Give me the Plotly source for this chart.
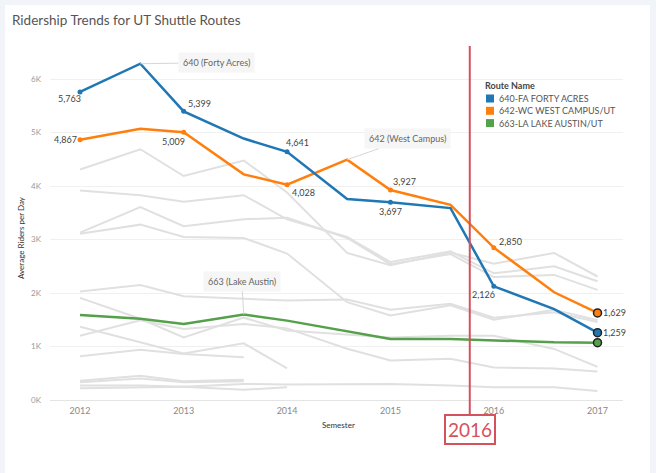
import plotly.graph_objects as go

# semesters (spring = Jan, fall = Aug)
semesters = ["2012-01-01", "2012-08-01", "2013-01-01", "2013-08-01", "2014-01-01", "2014-08-01",
             "2015-01-01", "2015-08-01", "2016-01-01", "2016-08-01", "2017-01-01"]

forty_acres = [5763, 6290, 5399, 4890, 4641, 3760, 3697, 3590, 2126, 1700, 1259]
west_campus = [4867, 5075, 5009, 4220, 4028, 4495, 3927, 3650, 2850, 2015, 1629]
lake_austin = [1590, 1520, 1420, 1600, 1485, 1280, 1140, 1140, 1110, 1080, 1073]

# every other route, drawn in grey
route_a = [4310, 4690, 4190, 4480, 3880, 2750, 2520, 2760, 2550, 2750, 2310]
route_b = [3920, 3830, 3710, 3830, 3380, 3050, 2580, 2780, 2370, 2500, 2220]
route_c = [3130, 3610, 3250, 3380, 3410, 3030, 2540, 2730, 2300, 2340, 2060]
route_d = [3110, 3280, 3050, 3030, 2740, 1830, 1580, 1770, 1500, 1690, 1490]
route_e = [2030, 2150, 1940, 1900, 1860, 1880, 1690, 1800, 1540, 1640, 1460]
route_f = [1910, 1520, 1170, 1540, 1300, 1230, 1170, 1200, 1200, 955, 620]
route_g = [1200, 1490, 1330, 1420, 1340, 960, 740, 770, 610, 590, 535]
route_h = [1370, 1080, 870, 1060, 590]
route_i = [820, 940, 860, 800]
route_j = [360, 455, 350, 380]
route_k = [330, 400, 330, 350]
route_l = [270, 270, 250, 300, 290, 300, 300, 270, 240, 240, 170]
route_m = [220, 240, 250, 190, 240]
grey_routes = [route_a, route_b, route_c, route_d, route_e, route_f, route_g,
               route_h, route_i, route_j, route_k, route_l, route_m]

legend_names = ["640-FA FORTY ACRES", "642-WC WEST CAMPUS/UT", "663-LA LAKE AUSTIN/UT"]
y_ticks = [0, 1000, 2000, 3000, 4000, 5000, 6000]
y_labels = ["0K", "1K", "2K", "3K", "4K", "5K", "6K"]
marked_year = "2016"

BLUE = "#1f77b4"
ORANGE = "#ff7f0e"
GREEN = "#55a04a"
GREY = "#e0e0e0"
RED = "#d4525c"
FONT = "Lato"

W, H = 656, 473
L, R, T, B = 50, 33, 45, 73
pw, ph = W - L - R, H - T - B


def px(xp):  # page pixel -> paper x
    return (xp - L) / pw


def py(yp):  # page pixel -> paper y
    return (H - B - yp) / ph


fig = go.Figure()

for vals in grey_routes:
    fig.add_trace(go.Scatter(x=semesters[:len(vals)], y=vals, mode="lines",
                             line=dict(color=GREY, width=2), hoverinfo="skip", showlegend=False))

main = [(lake_austin, GREEN), (west_campus, ORANGE), (forty_acres, BLUE)]
for vals, col in main:
    fig.add_trace(go.Scatter(x=semesters, y=vals, mode="lines",
                             line=dict(color=col, width=2.5), showlegend=False))

# small dots at the labelled points, big outlined dot at the end
for vals, col in [(west_campus, ORANGE), (forty_acres, BLUE)]:
    idx = [0, 2, 4, 6, 8]
    fig.add_trace(go.Scatter(x=[semesters[i] for i in idx], y=[vals[i] for i in idx], mode="markers",
                             marker=dict(color=col, size=5), showlegend=False))
for vals, col in main:
    fig.add_trace(go.Scatter(x=[semesters[-1]], y=[vals[-1]], mode="markers",
                             marker=dict(color=col, size=8, line=dict(color="#222", width=1.5)),
                             showlegend=False))

# value labels (pixel offsets from the point)
labels = [
    (forty_acres, 0, -11, -7), (forty_acres, 2, 16, 8), (forty_acres, 4, 10, 9),
    (forty_acres, 6, 0, -9), (forty_acres, 8, -10, -8), (forty_acres, 10, 17, 0),
    (west_campus, 0, -15, 0), (west_campus, 2, -10, -9), (west_campus, 4, 16, -8),
    (west_campus, 6, 14, 9), (west_campus, 8, 17, 6), (west_campus, 10, 17, 0),
]
for vals, i, dx, dy in labels:
    fig.add_annotation(x=semesters[i], y=vals[i], text=f"{vals[i]:,}", showarrow=False,
                       xshift=dx, yshift=dy, font=dict(size=9, color="#444", family=FONT))

# route callouts
callouts = [("640 (Forty Acres)", semesters[1], forty_acres[1], 76, -1),
            ("642 (West Campus)", semesters[5], west_campus[5], 60, -21),
            ("663 (Lake Austin)", semesters[3], lake_austin[3], -2, -33)]
for txt, x, y, ax, ay in callouts:
    fig.add_annotation(x=x, y=y, text=txt, showarrow=True, arrowhead=0, arrowwidth=1,
                       arrowcolor="#d6d6d6", ax=ax, ay=ay, bgcolor="#f6f6f6", borderpad=4,
                       font=dict(size=9, color="#666", family=FONT))

# hand-drawn legend (compact rows like the original)
fig.add_annotation(xref="paper", yref="paper", x=px(483), y=py(86), xanchor="left", yanchor="middle",
                   text="<b>Route Name</b>", showarrow=False, font=dict(size=9, color="#444", family=FONT))
for k, (name, col) in enumerate(zip(legend_names, [BLUE, ORANGE, GREEN])):
    yc = 98.5 + k * 12.3
    fig.add_shape(type="rect", xref="paper", yref="paper", x0=px(486), x1=px(494),
                  y0=py(yc + 4), y1=py(yc - 4), fillcolor=col, line=dict(width=0))
    fig.add_annotation(xref="paper", yref="paper", x=px(497), y=py(yc), xanchor="left", yanchor="middle",
                       text=name, showarrow=False, font=dict(size=9, color="#555", family=FONT))

# reference line + year box
fig.add_shape(type="line", xref="x", yref="paper", x0="2015-10-08", x1="2015-10-08",
              y0=py(415), y1=py(46), line=dict(color=RED, width=2))
fig.add_annotation(x="2015-10-08", xref="x", yref="paper", y=py(414), yanchor="top",
                   text=marked_year, showarrow=False, bgcolor="white", bordercolor=RED,
                   borderwidth=2, borderpad=2, font=dict(size=19, color=RED, family=FONT))

# axis titles
fig.add_annotation(xref="paper", yref="paper", x=px(338), y=py(425), xanchor="center", yanchor="middle",
                   text="Semester", showarrow=False, font=dict(size=8, color="#333", family=FONT))
fig.add_annotation(xref="paper", yref="paper", x=px(21), y=py(238), xanchor="center", yanchor="middle",
                   text="Average Riders per Day", textangle=-90, showarrow=False,
                   font=dict(size=8, color="#333", family=FONT))

# page frame: light border around white card
fig.add_shape(type="rect", xref="paper", yref="paper", x0=px(5), x1=px(650), y0=py(H + 5), y1=py(5),
              fillcolor="white", line=dict(width=0), layer="below")

fig.update_layout(
    width=W, height=H,
    margin=dict(l=L, r=R, t=T, b=B),
    paper_bgcolor="#f1f4f8", plot_bgcolor="white",
    font=dict(family=FONT, color="#555"),
    title=dict(text="Ridership Trends for UT Shuttle Routes", x=12 / W, xanchor="left",
               y=1 - 20 / H, yanchor="middle", pad=dict(l=0, t=0, b=0, r=0),
               font=dict(size=13.5, color="#555", family=FONT)),
    showlegend=False,
)
fig.update_xaxes(type="date", range=["2011-09-17", "2017-04-01"], dtick="M12", tickformat="%Y",
                 tick0="2012-01-01", showgrid=False, zeroline=False, showline=False, automargin=False,
                 tickfont=dict(size=9, color="#888"), ticks="", ticklabelstandoff=4)
fig.update_yaxes(range=[0, 6640], tickvals=y_ticks, ticktext=y_labels, showgrid=True, automargin=False,
                 gridcolor="#f0f0f0", zeroline=True, zerolinecolor="#e4e4e4", zerolinewidth=1,
                 tickfont=dict(size=8, color="#999"), ticks="", ticklabelstandoff=8)

# drop the browser's default body margin so the figure sits at the page corner
fig.write_html("out.html", config={"displayModeBar": False},
               post_script="document.body.style.margin='0';")
